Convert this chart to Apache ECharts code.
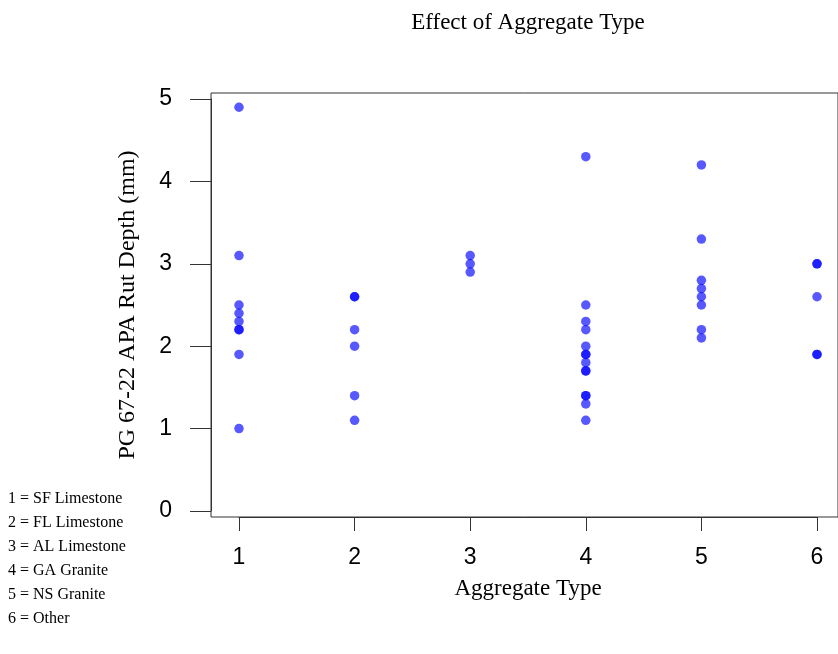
<!DOCTYPE html>
<html>
<head>
<meta charset="utf-8">
<script src="https://cdn.jsdelivr.net/npm/echarts@6/dist/echarts.min.js"></script>
<style>html,body{margin:0;padding:0;background:#fff;}#c{width:838px;height:654px;}</style>
</head>
<body>
<div id="c"></div>
<script>
// Data (rut depth, mm) for each aggregate type
const aggregateTypes = [1, 2, 3, 4, 5, 6];
const type1 = [4.9, 3.1, 2.5, 2.4, 2.3, 2.2, 2.2, 1.9, 1.0];
const type2 = [2.6, 2.6, 2.2, 2.0, 1.4, 1.1];
const type3 = [3.1, 3.0, 2.9];
const type4 = [4.3, 2.5, 2.3, 2.2, 2.0, 1.9, 1.9, 1.8, 1.7, 1.7, 1.4, 1.4, 1.3, 1.1];
const type5 = [4.2, 3.3, 2.8, 2.7, 2.6, 2.5, 2.2, 2.1];
const type6 = [3.0, 3.0, 2.6, 1.9, 1.9];
const yTicks = [0, 1, 2, 3, 4, 5];
const legendLines = ['1 = SF Limestone', '2 = FL Limestone', '3 = AL Limestone', '4 = GA Granite', '5 = NS Granite', '6 = Other'];

const groups = [type1, type2, type3, type4, type5, type6];
const points = [];
groups.forEach((g, i) => g.forEach(v => points.push([aggregateTypes[i], v])));

const serif = "'Liberation Serif', 'Times New Roman', serif";
const sans = "'Liberation Sans', Arial, sans-serif";
const xMin = aggregateTypes[0], xMax = aggregateTypes[aggregateTypes.length - 1];
const yMin = yTicks[0], yMax = yTicks[yTicks.length - 1];
const axisColor = '#333';

const chart = echarts.init(document.getElementById('c'));
chart.setOption({
  animation: false,
  backgroundColor: '#fff',
  title: {
    text: 'Effect of Aggregate Type',
    left: 523, top: 6, textAlign: 'center',
    textStyle: { fontFamily: serif, fontSize: 23, fontWeight: 'normal', color: '#000' }
  },
  grid: [
    // 0: data area
    { left: 239, right: 21, top: 99, bottom: 143 },
    // 1: y axis (line at left of frame)
    { left: 211, right: 21, top: 99, bottom: 143 },
    // 2: x axis (line at bottom of frame)
    { left: 239, right: 21, top: 93, bottom: 137 },
    // 3: frame
    { left: 211, right: -30, top: 93, bottom: 137, show: true, borderColor: axisColor, borderWidth: 1, backgroundColor: 'transparent' }
  ],
  xAxis: [
    { type: 'value', gridIndex: 0, show: false, min: xMin, max: xMax },
    { type: 'value', gridIndex: 1, show: false, min: 0, max: 1 },
    {
      type: 'value', gridIndex: 2, min: xMin, max: xMax, interval: 1,
      name: 'Aggregate Type', nameLocation: 'middle', nameGap: 60,
      nameTextStyle: { fontFamily: serif, fontSize: 23, color: '#000' },
      axisLine: { show: true, lineStyle: { color: axisColor, width: 1 } },
      axisTick: { show: true, length: 14, lineStyle: { color: axisColor } },
      axisLabel: { margin: 29, fontFamily: sans, fontSize: 23, color: '#000' },
      splitLine: { show: false }
    },
    { type: 'value', gridIndex: 3, show: false, min: 0, max: 1 }
  ],
  yAxis: [
    { type: 'value', gridIndex: 0, show: false, min: yMin, max: yMax },
    {
      type: 'value', gridIndex: 1, min: yMin, max: yMax, interval: 1,
      name: 'PG 67-22 APA Rut Depth (mm)', nameLocation: 'middle', nameGap: 71,
      nameTextStyle: { fontFamily: serif, fontSize: 24, color: '#000' },
      axisLine: { show: true, lineStyle: { color: axisColor, width: 1 } },
      axisTick: { show: true, length: 21, lineStyle: { color: axisColor } },
      axisLabel: { margin: 39, fontFamily: sans, fontSize: 23, color: '#000' },
      splitLine: { show: false }
    },
    { type: 'value', gridIndex: 2, show: false, min: 0, max: 1 },
    { type: 'value', gridIndex: 3, show: false, min: 0, max: 1 }
  ],
  series: [{
    type: 'scatter', xAxisIndex: 0, yAxisIndex: 0,
    data: points, symbol: 'circle', symbolSize: 9.5,
    itemStyle: { color: 'rgba(0,0,255,0.82)' }
  }],
  graphic: legendLines.map((t, i) => ({
    type: 'text', left: 8, top: 491 + i * 24,
    style: { text: t, font: "16px 'Liberation Serif'", fill: '#000' }
  }))
});
</script>
</body>
</html>
